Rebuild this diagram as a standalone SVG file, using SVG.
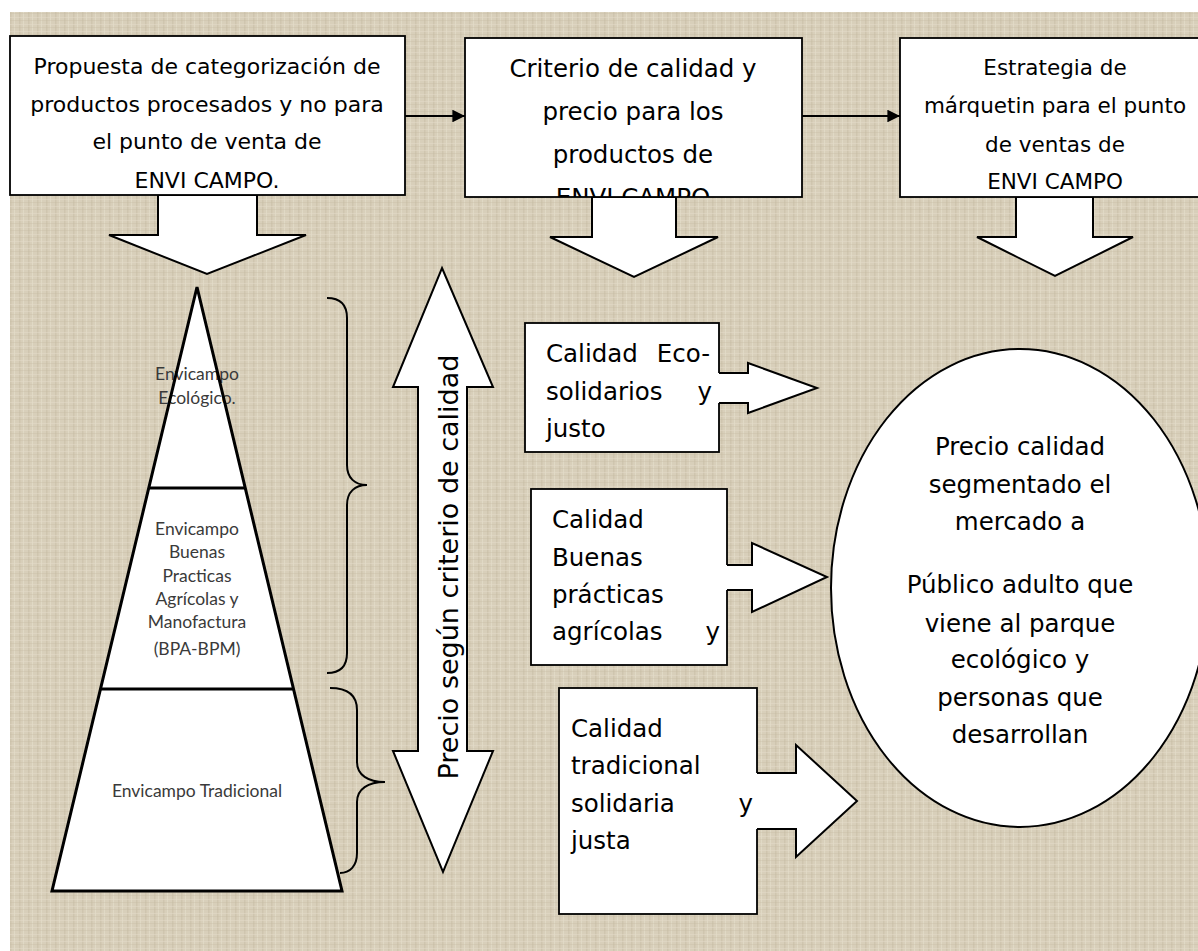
<svg xmlns="http://www.w3.org/2000/svg" width="1198" height="951" viewBox="0 0 1198 951">
<style>
.box{fill:#fff;stroke:#000;stroke-width:1.8}
.blk{fill:#fff;stroke:#000;stroke-width:2;stroke-linejoin:miter}
.ln{fill:none;stroke:#000;stroke-width:2}
.t{font-family:"DejaVu Sans","Liberation Sans",sans-serif;fill:#000}
.p{font-family:Lato,"Open Sans","Liberation Sans",sans-serif;fill:#3a3a3a;font-size:17.5px;text-anchor:middle}
.c{text-anchor:middle}
</style>
<defs>
<pattern id="burlap" width="9" height="7" patternUnits="userSpaceOnUse">
<rect width="9" height="7" fill="#d8cfba"/>
<rect x="1" y="0" width="1.5" height="7" fill="#c6bba3" opacity="0.5"/>
<rect x="5" y="0" width="1" height="7" fill="#e6dfcd" opacity="0.6"/>
<rect x="0" y="3" width="9" height="1" fill="#e4dcc9" opacity="0.5"/>
<rect x="0" y="6" width="9" height="1" fill="#c5b9a1" opacity="0.3"/>
</pattern>
<marker id="ah" viewBox="0 0 10 10" refX="10" refY="5" markerWidth="7" markerHeight="7" orient="auto" markerUnits="strokeWidth">
<path d="M0,0 L10,5 L0,10 z" fill="#000"/>
</marker>
<clipPath id="clip2"><rect x="465" y="38" width="337" height="159"/></clipPath>
</defs>
<rect x="0" y="0" width="1198" height="951" fill="#fff"/>
<rect x="10" y="12" width="1188" height="939" fill="url(#burlap)"/>

<g id="connectors">
<line x1="405" y1="116" x2="465" y2="116" stroke="#000" stroke-width="1.8" marker-end="url(#ah)"/>
<line x1="802" y1="116" x2="900" y2="116" stroke="#000" stroke-width="1.8" marker-end="url(#ah)"/>
<polygon class="blk" points="158,195 257,195 257,235 306,235 207,274 109,235 158,235"/>
<polygon class="blk" points="592,197 676,197 676,237 718,237 634,277 550,237 592,237"/>
<polygon class="blk" points="1016,197 1093,197 1093,237 1133,237 1055,276 977,237 1016,237"/>
</g>

<g id="box1">
<rect class="box" x="10" y="36" width="395" height="159"/>
<text class="t c" font-size="22" x="207" y="74">Propuesta de categorización de</text>
<text class="t c" font-size="22" x="207" y="112">productos procesados y no para</text>
<text class="t c" font-size="22" x="207" y="149">el punto de venta de</text>
<text class="t c" font-size="22" x="207" y="188">ENVI CAMPO.</text>
</g>

<g id="box2">
<rect class="box" x="465" y="38" width="337" height="159"/>
<g clip-path="url(#clip2)">
<text class="t c" font-size="24.5" x="633" y="77">Criterio de calidad y</text>
<text class="t c" font-size="24.5" x="633" y="120">precio para los</text>
<text class="t c" font-size="24.5" x="633" y="163">productos de</text>
<text class="t c" font-size="24.5" x="633" y="206">ENVI CAMPO</text>
</g>
</g>

<g id="box3">
<rect class="box" x="900" y="38" width="310" height="159"/>
<text class="t c" font-size="21.5" x="1055" y="75">Estrategia de</text>
<text class="t c" font-size="21.5" x="1055" y="113">márquetin para el punto</text>
<text class="t c" font-size="21.5" x="1055" y="152">de ventas de</text>
<text class="t c" font-size="21.5" x="1055" y="189">ENVI CAMPO</text>
</g>

<g id="pyramid">
<polygon points="197,287 342,891 52,891" fill="#fff"/>
<text class="p" x="197" y="380">Envicampo</text>
<text class="p" x="197" y="404">Ecológico.</text>
<text class="p" x="197" y="535">Envicampo</text>
<text class="p" x="197" y="558">Buenas</text>
<text class="p" x="197" y="582">Practicas</text>
<text class="p" x="197" y="605">Agrícolas y</text>
<text class="p" x="197" y="628">Manofactura</text>
<text class="p" x="197" y="655">(BPA-BPM)</text>
<text class="p" x="197" y="797">Envicampo Tradicional</text>
<polygon points="197,287 342,891 52,891" fill="none" stroke="#000" stroke-width="3" stroke-linejoin="miter"/>
<line x1="149" y1="488" x2="246" y2="488" stroke="#000" stroke-width="3"/>
<line x1="100" y1="689" x2="294" y2="689" stroke="#000" stroke-width="3"/>
</g>

<g id="braces">
<path class="ln" d="M327,298 C340,298 347,305 347,318 L347,465 C347,478 355,485 367,485 C355,485 347,492 347,505 L347,653 C347,666 340,673 327,673"/>
<path class="ln" d="M330,688 C348,688 357,695 357,710 L357,762 C357,775 368,782 385,782 C368,782 357,789 357,802 L357,853 C357,866 350,873 340,873"/>
</g>

<g id="price-arrow">
<polygon class="blk" points="442,268 493,387 467,387 467,751 493,751 443,872 393,751 418,751 418,387 393,387"/>
<text class="t c" font-size="27" transform="translate(458,567) rotate(-90)">Precio según criterio de calidad</text>
</g>

<g id="boxA">
<rect class="box" x="525" y="323" width="194" height="129"/>
<polygon points="716,373 748,373 748,363 817,388 748,413 748,403 716,403" fill="#fff"/>
<polyline class="ln" points="719,373 748,373 748,363 817,388 748,413 748,403 719,403"/>
<text class="t" font-size="24.5" y="362"><tspan x="546">Calidad</tspan><tspan x="710" text-anchor="end">Eco-</tspan></text>
<text class="t" font-size="24.5" y="400"><tspan x="546">solidarios</tspan><tspan x="712" text-anchor="end">y</tspan></text>
<text class="t" font-size="24.5" x="546" y="437">justo</text>
</g>

<g id="boxB">
<rect class="box" x="531" y="489" width="196" height="176"/>
<polygon points="724,565 752,565 752,543 827,577 752,612 752,590 724,590" fill="#fff"/>
<polyline class="ln" points="727,565 752,565 752,543 827,577 752,612 752,590 727,590"/>
<text class="t" font-size="24.5" x="552" y="528">Calidad</text>
<text class="t" font-size="24.5" x="552" y="566">Buenas</text>
<text class="t" font-size="24.5" x="552" y="603">prácticas</text>
<text class="t" font-size="24.5" y="640"><tspan x="552">agrícolas</tspan><tspan x="720" text-anchor="end">y</tspan></text>
</g>

<g id="boxC">
<rect class="box" x="559" y="688" width="198" height="226"/>
<polygon points="754,773 796,773 796,745 857,801 796,857 796,829 754,829" fill="#fff"/>
<polyline class="ln" points="757,773 796,773 796,745 857,801 796,857 796,829 757,829"/>
<text class="t" font-size="24.5" x="571" y="737">Calidad</text>
<text class="t" font-size="24.5" x="571" y="774">tradicional</text>
<text class="t" font-size="24.5" y="812"><tspan x="571">solidaria</tspan><tspan x="753" text-anchor="end">y</tspan></text>
<text class="t" font-size="24.5" x="571" y="849">justa</text>
</g>

<g id="market">
<ellipse cx="1020" cy="588" rx="189" ry="239" fill="#fff" stroke="#000" stroke-width="2"/>
<text class="t c" font-size="24.5" x="1020" y="455">Precio calidad</text>
<text class="t c" font-size="24.5" x="1020" y="493">segmentado el</text>
<text class="t c" font-size="24.5" x="1020" y="530">mercado a</text>
<text class="t c" font-size="24.5" x="1020" y="593">Público adulto que</text>
<text class="t c" font-size="24.5" x="1020" y="632">viene al parque</text>
<text class="t c" font-size="24.5" x="1020" y="668">ecológico y</text>
<text class="t c" font-size="24.5" x="1020" y="706">personas que</text>
<text class="t c" font-size="24.5" x="1020" y="743">desarrollan</text>
</g>
</svg>
